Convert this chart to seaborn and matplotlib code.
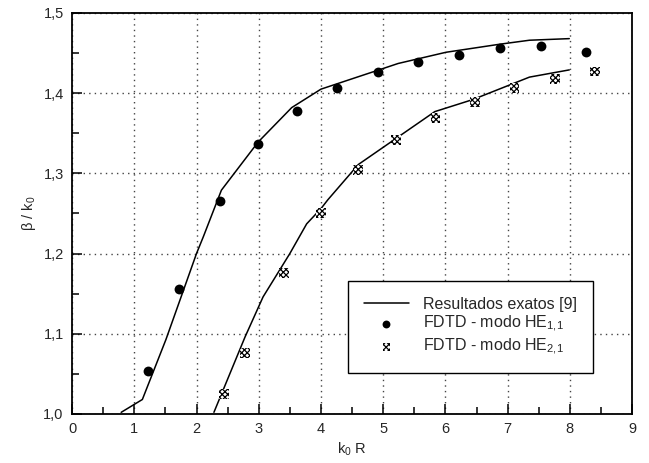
import numpy as np
import pandas as pd
import seaborn as sns
import matplotlib.pyplot as plt
from matplotlib.ticker import MultipleLocator

# exact results (line), mode HE11
exact11_x = [0.79, 1.13, 1.51, 2.00, 2.11, 2.40, 2.99, 3.53, 4.00, 4.62, 4.97, 5.24, 6.01, 6.87, 7.35, 7.99]
exact11_y = [1.002, 1.018, 1.093, 1.200, 1.221, 1.279, 1.339, 1.382, 1.405, 1.421, 1.430, 1.437, 1.451, 1.461, 1.466, 1.468]

# exact results (line), mode HE21
exact21_x = [2.28, 2.78, 3.07, 3.50, 3.77, 4.00, 4.11, 4.60, 5.83, 6.44, 7.35, 7.99]
exact21_y = [1.002, 1.096, 1.146, 1.200, 1.237, 1.256, 1.267, 1.311, 1.377, 1.392, 1.420, 1.429]

# FDTD points
fdtd11_x = [1.22, 1.72, 2.37, 2.99, 3.62, 4.26, 4.91, 5.56, 6.22, 6.87, 7.54, 8.26]
fdtd11_y = [1.054, 1.156, 1.266, 1.337, 1.378, 1.407, 1.426, 1.439, 1.448, 1.456, 1.459, 1.451]

fdtd21_x = [2.44, 2.78, 3.40, 4.00, 4.60, 5.21, 5.84, 6.48, 7.11, 7.76, 8.41]
fdtd21_y = [1.025, 1.076, 1.176, 1.251, 1.304, 1.342, 1.369, 1.389, 1.406, 1.418, 1.427]

xticks = [0, 1, 2, 3, 4, 5, 6, 7, 8, 9]
yticks = [1.0, 1.1, 1.2, 1.3, 1.4, 1.5]
ytick_labels = ['1,0', '1,1', '1,2', '1,3', '1,4', '1,5']

sns.set_style('ticks')
plt.rcParams['font.family'] = ['Liberation Sans', 'DejaVu Sans']
plt.rcParams['mathtext.fontset'] = 'custom'
plt.rcParams['mathtext.rm'] = 'Liberation Sans'
plt.rcParams['mathtext.it'] = 'Liberation Sans:italic'
plt.rcParams['hatch.linewidth'] = 0.9

fig = plt.figure(figsize=(6.49, 4.63), dpi=100)
ax = fig.add_axes([0.111, 0.106, 0.863, 0.866])

e11 = pd.DataFrame({'x': exact11_x, 'y': exact11_y})
e21 = pd.DataFrame({'x': exact21_x, 'y': exact21_y})
sns.lineplot(data=e11, x='x', y='y', sort=False, color='black', lw=1.1, ax=ax,
             label='Resultados exatos [9]')
sns.lineplot(data=e21, x='x', y='y', sort=False, color='black', lw=1.1, ax=ax)

sns.scatterplot(x=fdtd11_x, y=fdtd11_y, color='black', s=50, marker='o',
                edgecolor='black', linewidth=0, ax=ax,
                label='FDTD - modo HE$_{1{,}1}$', zorder=3)
sns.scatterplot(x=fdtd21_x, y=fdtd21_y, facecolor='white', s=50, marker='s',
                edgecolor='black', linewidth=0, hatch='xxxxxx', ax=ax,
                label='FDTD - modo HE$_{2{,}1}$', zorder=3)

ax.set_xlim(0, 9)
ax.set_ylim(1.0, 1.5)
ax.set_xticks(xticks)
ax.set_xticklabels([str(v) for v in xticks])
ax.set_yticks(yticks)
ax.set_yticklabels(ytick_labels)
ax.xaxis.set_minor_locator(MultipleLocator(0.5))
ax.yaxis.set_minor_locator(MultipleLocator(0.05))
ax.tick_params(which='major', direction='in', length=7, width=1.1, labelsize=10.5,
               color='black', pad=6)
ax.tick_params(which='minor', direction='in', length=5, width=1.1, color='black')
ax.tick_params(top=False, right=False, which='both')
ax.grid(True, which='major', color='#444444', linestyle=(0, (1, 3)), linewidth=1)

for sp in ax.spines.values():
    sp.set_linewidth(1.3)
    sp.set_color('black')

ax.set_xlabel('k$_0$ R', fontsize=10.5, labelpad=3)
ax.set_ylabel('β / k$_0$', fontsize=10.5, labelpad=4)

leg = ax.legend(loc='lower left', bbox_to_anchor=(0.493, 0.102), fontsize=11.5,
                frameon=True, fancybox=False, framealpha=1, edgecolor='black',
                borderpad=1.0, handlelength=2.8, handletextpad=0.9, labelspacing=0.15,
                borderaxespad=0, markerscale=0.8)
leg.get_frame().set_linewidth(1.0)

fig.savefig('out.png', dpi=100)
